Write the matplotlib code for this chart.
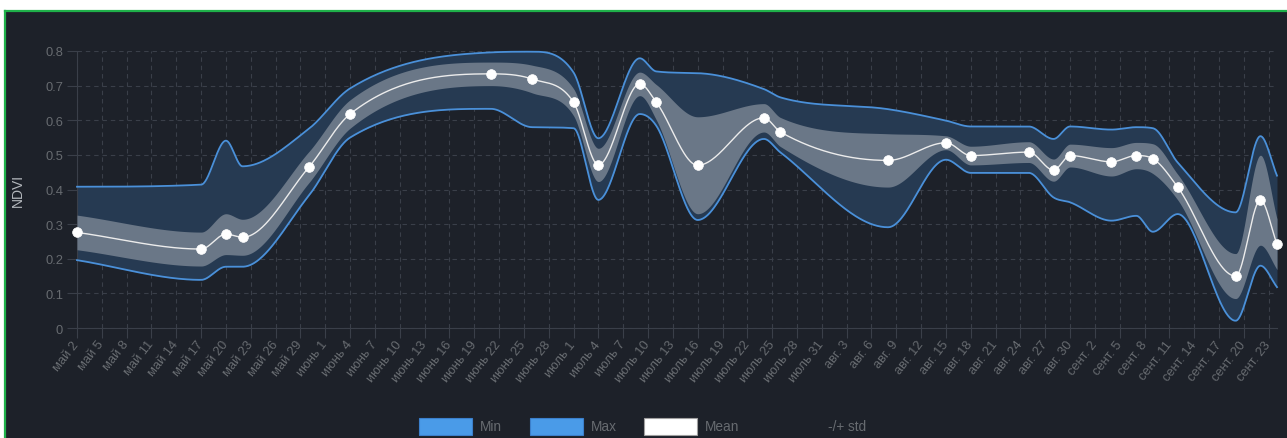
import numpy as np
import matplotlib
matplotlib.use("Agg")
import matplotlib.pyplot as plt
from matplotlib.patches import Rectangle
from matplotlib.lines import Line2D

# --- observation dates and NDVI statistics ---------------------------------
obs_dates = ["2024-05-02", "2024-05-17", "2024-05-20", "2024-05-22", "2024-05-30",
             "2024-06-04", "2024-06-21", "2024-06-26", "2024-07-01", "2024-07-04",
             "2024-07-09", "2024-07-11", "2024-07-16", "2024-07-24", "2024-07-26",
             "2024-08-08", "2024-08-15", "2024-08-18", "2024-08-25", "2024-08-28",
             "2024-08-30", "2024-09-04", "2024-09-07", "2024-09-09", "2024-09-12",
             "2024-09-19", "2024-09-22", "2024-09-24"]

ndvi_mean = [0.276, 0.228, 0.271, 0.262, 0.464, 0.618, 0.734, 0.719, 0.652, 0.471,
             0.705, 0.652, 0.470, 0.607, 0.566, 0.484, 0.535, 0.498, 0.508, 0.456,
             0.498, 0.480, 0.498, 0.489, 0.407, 0.150, 0.369, 0.242]

ndvi_std = [0.050, 0.049, 0.059, 0.052, 0.045, 0.041, 0.034, 0.040, 0.039, 0.048,
            0.034, 0.051, 0.140, 0.041, 0.042, 0.077, 0.020, 0.027, 0.030, 0.032,
            0.033, 0.041, 0.038, 0.043, 0.037, 0.065, 0.130, 0.073]

ndvi_max = [0.408, 0.414, 0.541, 0.467, 0.575, 0.692, 0.796, 0.798, 0.738, 0.548,
            0.779, 0.741, 0.736, 0.690, 0.666, 0.632, 0.599, 0.582, 0.582, 0.546,
            0.582, 0.573, 0.580, 0.577, 0.478, 0.334, 0.554, 0.440]

ndvi_min = [0.196, 0.139, 0.177, 0.177, 0.382, 0.550, 0.633, 0.580, 0.577, 0.370,
            0.618, 0.584, 0.312, 0.546, 0.507, 0.291, 0.486, 0.448, 0.448, 0.377,
            0.363, 0.310, 0.324, 0.278, 0.329, 0.021, 0.180, 0.118]

month_names = {5: "май", 6: "июнь", 7: "июль", 8: "авг.", 9: "сент."}
legend_labels = ["Min", "Max", "Mean", "-/+ std"]
y_ticks = [0, 0.1, 0.2, 0.3, 0.4, 0.5, 0.6, 0.7, 0.8]
y_tick_labels = ["0", "0.1", "0.2", "0.3", "0.4", "0.5", "0.6", "0.7", "0.8"]

# --- colours -----------------------------------------------------------------
BG = "#1d2129"
GRID = "#3a3f49"
BAND = "#263a52"
STD_BAND = "#6a7787"
EDGE = "#4a90d9"
MEAN = "#ececec"
TXT = "#676b70"

plt.rcParams["font.family"] = ["Liberation Sans", "DejaVu Sans"]

W, H = 1287, 439


def fx(px):
    return px / W


def fy(py):
    return 1 - py / H


def monotone_curve(x, y, n=60):
    """Monotone cubic Hermite curve through the given points."""
    x = np.asarray(x, float)
    y = np.asarray(y, float)
    dx = np.diff(x)
    dk = np.diff(y) / dx
    m = np.zeros_like(y)
    m[0], m[-1] = dk[0], dk[-1]
    for k in range(1, len(y) - 1):
        if dk[k - 1] == 0 or dk[k] == 0 or np.sign(dk[k - 1]) != np.sign(dk[k]):
            m[k] = 0.0
        else:
            m[k] = (dk[k - 1] + dk[k]) / 2
    for k in range(len(dk)):
        if dk[k] == 0:
            m[k] = m[k + 1] = 0.0
            continue
        a, b = m[k] / dk[k], m[k + 1] / dk[k]
        s = a * a + b * b
        if s > 9:
            t = 3 / np.sqrt(s)
            m[k], m[k + 1] = a * t * dk[k], b * t * dk[k]
    xs, ys = [], []
    for k in range(len(dk)):
        t = np.linspace(0, 1, n, endpoint=False)
        h = dx[k]
        h00 = 2 * t**3 - 3 * t**2 + 1
        h10 = t**3 - 2 * t**2 + t
        h01 = -2 * t**3 + 3 * t**2
        h11 = t**3 - t**2
        xs.append(x[k] + t * h)
        ys.append(h00 * y[k] + h10 * h * m[k] + h01 * y[k + 1] + h11 * h * m[k + 1])
    xs.append([x[-1]])
    ys.append([y[-1]])
    return np.concatenate(xs), np.concatenate(ys)


dates = np.array(obs_dates, dtype="datetime64[D]")
start = dates[0]
days = (dates - start).astype(int)
mean = np.array(ndvi_mean)
std = np.array(ndvi_std)

fig = plt.figure(figsize=(W / 100, H / 100), dpi=100, facecolor="white")

# dark panel with green frame
fig.add_artist(Rectangle((fx(6), 0), 1 - fx(6), fy(12.5), transform=fig.transFigure,
                         facecolor=BG, edgecolor="none", zorder=-10))
fig.add_artist(Line2D([fx(5), fx(5)], [0, fy(11.5)], transform=fig.transFigure,
                      color="#1fb14a", lw=1.6))
fig.add_artist(Line2D([fx(5), 1], [fy(11.5), fy(11.5)], transform=fig.transFigure,
                      color="#1fb14a", lw=1.6))

ax = fig.add_axes([fx(77), fy(329), fx(1277) - fx(77), fy(52) - fy(329)])
ax.set_facecolor("none")
ax.set_xlim(0, days[-1])
ax.set_ylim(0, 0.8)

# x ticks every three days
tick_dates = np.arange(start, np.datetime64("2024-09-24"), np.timedelta64(3, "D"))
tick_pos = (tick_dates - start).astype(int)
tick_labels = []
for d in tick_dates:
    s = str(d)
    tick_labels.append(f"{month_names[int(s[5:7])]} {int(s[8:10])}")

ax.set_xticks(tick_pos)
ax.set_xticklabels(tick_labels, rotation=52, ha="right", va="center",
                   rotation_mode="anchor", fontsize=9.3, color=TXT)
ax.set_yticks(y_ticks)
ax.set_yticklabels(y_tick_labels, fontsize=9.3, color=TXT)
ax.tick_params(axis="x", length=7, width=0.8, color=GRID, pad=3)
ax.tick_params(axis="y", length=7, width=0.8, color=GRID, pad=3)

ax.grid(True, color=GRID, lw=0.8, linestyle=(0, (4, 3.5)))
for side in ("top", "right"):
    ax.spines[side].set_visible(False)
for side in ("left", "bottom"):
    ax.spines[side].set_color(GRID)
    ax.spines[side].set_linewidth(0.8)
ax.set_axisbelow(True)

fig.text(fx(18), fy(190), "NDVI", rotation=90, color="#b4b8bd", fontsize=10,
         ha="center", va="center")

# bands and lines
cx, cmax = monotone_curve(days, ndvi_max)
_, cmin = monotone_curve(days, ndvi_min)
_, cup = monotone_curve(days, mean + std)
_, clo = monotone_curve(days, mean - std)
_, cmean = monotone_curve(days, mean)

ax.fill_between(cx, cmin, cmax, color=BAND, lw=0, zorder=2, clip_on=False)
ax.fill_between(cx, clo, cup, color=STD_BAND, lw=0, zorder=3, clip_on=False)
ax.plot(cx, cmax, color=EDGE, lw=1.3, zorder=4, clip_on=False)
ax.plot(cx, cmin, color=EDGE, lw=1.3, zorder=4, clip_on=False)
ax.plot(cx, cmean, color=MEAN, lw=1.0, zorder=5, clip_on=False)
ax.plot(days, mean, "o", color="white", ms=7, mec="white", mew=0.5,
        zorder=6, clip_on=False)

# legend
legend_boxes = [(419, "#4a9be8", "#3b7fcb"), (530, "#4a9be8", "#3b7fcb"),
                (644, "#ffffff", "#a0a0a0")]
for (x0, fc, ec), lab in zip(legend_boxes, legend_labels[:3]):
    fig.add_artist(Rectangle((fx(x0), fy(436)), fx(53), fy(419) - fy(436),
                             transform=fig.transFigure, facecolor=fc,
                             edgecolor=ec, lw=0.8))
    fig.text(fx(x0 + 61), fy(427.5), lab, color=TXT, fontsize=9.8,
             ha="left", va="center")
fig.text(fx(828), fy(427.5), legend_labels[3], color=TXT, fontsize=9.8,
         ha="left", va="center")

fig.savefig("out.png", dpi=100, facecolor="white")
